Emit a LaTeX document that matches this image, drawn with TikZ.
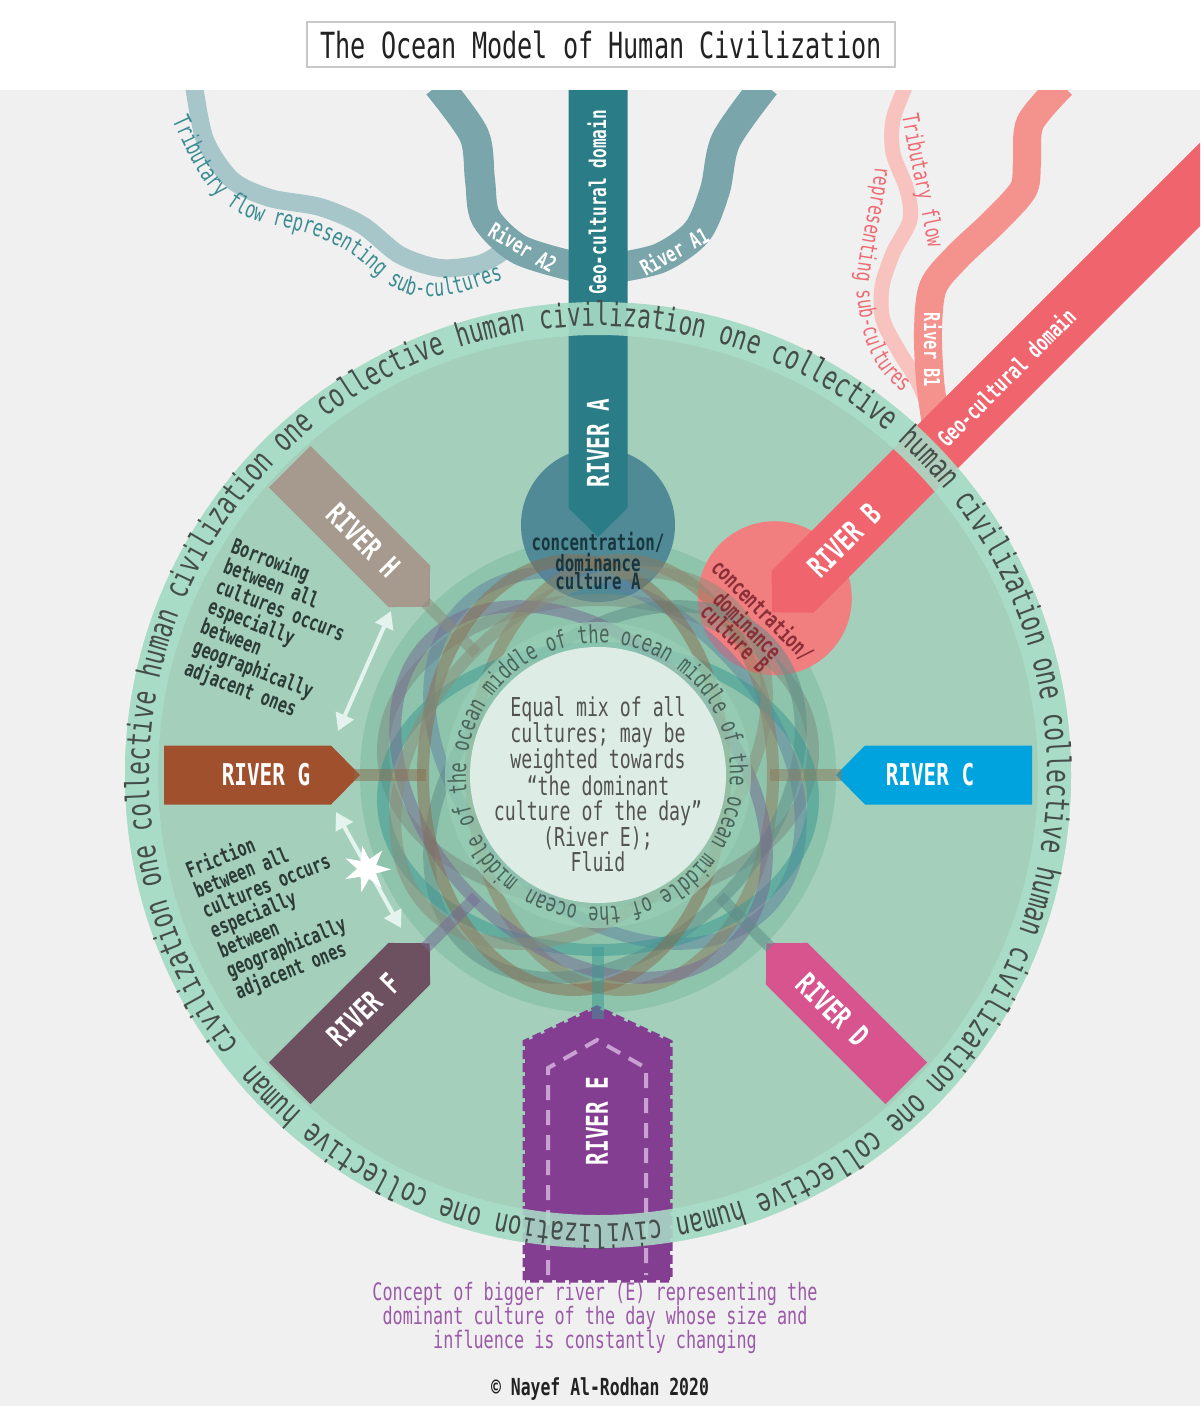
\documentclass[tikz,border=0pt]{standalone}
\usepackage{fontspec}
\setmainfont{DejaVu Sans Mono}[FakeStretch=0.7]
\usetikzlibrary{arrows.meta,decorations.text,shapes.geometric}
\definecolor{bggray}{HTML}{F0F0F0}
\definecolor{boxgray}{HTML}{C8C8C8}
\definecolor{titletxt}{HTML}{222222}
\definecolor{ringgreen}{HTML}{A9DCC6}
\definecolor{discgreen}{HTML}{A3CFBB}
\definecolor{deepgreen}{HTML}{8EC4AC}
\definecolor{midband}{HTML}{98CFB6}
\definecolor{coregreen}{HTML}{DDEDE6}
\definecolor{ringtxt}{HTML}{454D4A}
\definecolor{oceantxt}{HTML}{4A645C}
\definecolor{centretxt}{HTML}{525252}
\definecolor{riverA}{HTML}{2A7C86}
\definecolor{circA}{HTML}{4F8A96}
\definecolor{riverAA}{HTML}{7AA5AB}
\definecolor{tribA}{HTML}{A6C6C9}
\definecolor{tribAtxt}{HTML}{3B8B92}
\definecolor{riverB}{HTML}{F0646E}
\definecolor{circB}{HTML}{F27F80}
\definecolor{riverBB}{HTML}{F4938D}
\definecolor{tribB}{HTML}{F8C3BE}
\definecolor{tribBtxt}{HTML}{EE6A72}
\definecolor{riverC}{HTML}{00A3DE}
\definecolor{riverD}{HTML}{D8548F}
\definecolor{riverE}{HTML}{843E91}
\definecolor{dashE}{HTML}{C9A2D3}
\definecolor{riverF}{HTML}{6E5161}
\definecolor{riverG}{HTML}{A0502D}
\definecolor{riverH}{HTML}{A69A8F}
\definecolor{concAtxt}{HTML}{18363F}
\definecolor{concBtxt}{HTML}{8A2F37}
\definecolor{notetxt}{HTML}{2C3B36}
\definecolor{arrowwhite}{HTML}{E4F3ED}
\definecolor{concepttxt}{HTML}{9A5AA7}
\definecolor{loopA}{HTML}{7C8C80}
\definecolor{loopB}{HTML}{5F7FA0}
\definecolor{loopC}{HTML}{8D7A5C}
\definecolor{loopD}{HTML}{5E8C88}
\definecolor{loopE}{HTML}{3A9894}
\definecolor{loopF}{HTML}{766893}
\definecolor{loopG}{HTML}{8A6C4E}
\definecolor{loopH}{HTML}{8A8C78}
\tikzset{
  rivlab/.style  ={text=white,font=\bfseries\fontsize{30}{30}\selectfont,inner sep=0pt},
  geolab/.style  ={text=white,font=\bfseries\fontsize{23}{23}\selectfont,inner sep=0pt},
  sublab/.style  ={text=white,font=\bfseries\fontsize{22}{22}\selectfont,inner sep=0pt},
  conc/.style    ={font=\bfseries\fontsize{22.5}{18}\selectfont,align=center,inner sep=0pt},
  note/.style    ={text=notetxt,font=\bfseries\fontsize{21.5}{21.5}\selectfont,align=left,inner sep=0pt},
  domdisc/.style ={circle,minimum size=154pt,inner sep=0pt},
  flowloop/.style={line width=12pt,opacity=0.5},
  twoway/.style  ={draw=arrowwhite,line width=4pt,{Triangle[length=17pt,width=19pt]}-{Triangle[length=17pt,width=19pt]}},
}
\begin{document}
\begin{tikzpicture}[x=1pt,y=1pt]
  \useasboundingbox (0,0) rectangle (1200,-1406);
  \fill[white] (0,0) rectangle (1200,-90);
  \fill[bggray] (0,-90) rectangle (1200,-1406);
  \coordinate (ctr) at (598,-775);
  \node[draw=boxgray,line width=2pt,fill=white,minimum width=588pt,minimum height=45pt,inner sep=0pt,text=titletxt,font=\fontsize{36}{36}\selectfont] (title) at (601,-44.5) {The Ocean Model of Human Civilization};

  \fill[ringgreen] (ctr) circle[radius=473];
  \fill[discgreen] (ctr) circle[radius=440];
  \fill[deepgreen] (ctr) circle[radius=238];
  \node[domdisc,fill=circA] (domA) at ([shift={(90:250)}]ctr) {};
  \node[domdisc,fill=circB] (domB) at ([shift={(45:250)}]ctr) {};

  \begin{scope}
    \clip (0,-90) rectangle (1200,-1406);
    \draw[tribA,line width=18pt] plot[smooth] coordinates {(194,-85) (205,-140) (232,-180) (270,-198) (320,-207) (362,-225) (400,-255) (440,-268) (480,-264) (505,-250)};
    \draw[riverAA,line width=30pt] plot[smooth] coordinates {(438,-85) (474,-135) (480,-180) (486,-218) (520,-250) (580,-268)};
    \draw[riverAA,line width=30pt] plot[smooth] coordinates {(765,-85) (726,-140) (715,-190) (697,-232) (660,-258) (615,-268)};
    \draw[tribB,line width=15pt] plot[smooth] coordinates {(906,-85) (893,-120) (893,-153) (907,-190) (910,-220) (893,-253) (882,-287) (883,-320) (900,-353) (917,-380) (928,-405)};
    \draw[riverBB,line width=28pt] plot[smooth] coordinates {(1062,-85) (1030,-123) (1027,-163) (1023,-190) (993,-223) (957,-257) (933,-287) (928,-330) (930,-380) (936,-425)};
    \fill[riverB,shift={(603.7,-780.7)},rotate=45] (238,0) -- (267,29.5) -- (950,29.5) -- (950,-29.5) -- (267,-29.5) -- cycle;
  \end{scope}

  \foreach \ang/\col/\rout/\nm/\rot in {90/riverA/685/A/90,0/riverC/434/C/0,-45/riverD/436/D/-45,-135/riverF/436/F/45,180/riverG/434/G/0,135/riverH/436/H/-45}{
    \fill[\col,shift={(ctr)},rotate=\ang] (238,0) -- (267,29.5) -- (\rout,29.5) -- (\rout,-29.5) -- (267,-29.5) -- cycle;
    \node[rivlab,rotate=\rot] (lab\nm) at ([shift={(\ang:332)}]ctr) {RIVER \nm};
  }
  \node[rivlab,rotate=45] (labB) at (844,-540) {RIVER B};

  \fill[riverE] (525,-1280) -- (525,-1042) -- (597,-1008) -- (670,-1042) -- (670,-1280) -- cycle;
  \draw[riverE,line width=5pt,dash pattern=on 9pt off 4pt] (525,-1280) -- (525,-1042) -- (597,-1008) -- (670,-1042) -- (670,-1280) -- cycle;
  \draw[dashE,line width=4pt,dash pattern=on 15pt off 10pt] (548,-1275) -- (548,-1068) -- (597,-1040) -- (646,-1068) -- (646,-1275);
  \node[rivlab,rotate=90] (labE) at (597,-1121) {RIVER E};

  \fill[ringgreen,opacity=0.88,even odd rule] (ctr) circle[radius=473] (ctr) circle[radius=440];

  \foreach \ang/\col in {90/loopA,45/loopB,0/loopC,-45/loopD,-90/loopE,-135/loopF,180/loopG,135/loopH}{
    \draw[flowloop,draw=\col,shift={(ctr)},rotate=\ang] (24,0) ellipse[x radius=151,y radius=215];
  }
  \foreach \ang/\col in {0/loopC,-45/loopD,-90/loopE,-135/loopF,180/loopG,135/loopH}{
    \draw[flowloop,draw=\col,shift={(ctr)},rotate=\ang] (172,0) -- (244,0);
  }

  \fill[midband,opacity=0.7] (ctr) circle[radius=153];
  \fill[coregreen] (ctr) circle[radius=128];

  \path[decorate,decoration={text along path,text color=ringtxt,text={|\fontsize{32.7}{32.7}\selectfont|civilization one collective human civilization one collective human civilization one collective human civilization one collective human civilization one collective human civilization one collective human }}] ([shift={(217:449)}]ctr) arc[start angle=217,end angle=-143,radius=449];
  \path[decorate,decoration={text along path,text color=oceantxt,text={|\fontsize{24.5}{24.5}\selectfont|middle of the ocean middle of the ocean middle of the ocean middle of the ocean }}] ([shift={(233:132)}]ctr) arc[start angle=233,end angle=-127,radius=132];

  \node[text=centretxt,font=\fontsize{26}{25}\selectfont,align=center,inner sep=0pt] (mix) at (598,-784) {Equal mix of all\\cultures; may be\\weighted towards\\“the dominant\\culture of the day”\\(River E);\\Fluid};

  \node[conc,text=concAtxt] (concA) at ([shift={(90:214)}]ctr) {concentration/\\dominance\\culture A};
  \node[conc,text=concBtxt,rotate=-45] (concB) at ([shift={(45:214)}]ctr) {concentration/\\dominance\\culture B};

  \node[geolab,rotate=90] (geoA) at (597,-202) {Geo-cultural domain};
  \node[geolab,rotate=45] (geoB) at (1006,-377) {Geo-cultural domain};
  \node[sublab,rotate=-31] (labA2) at (523,-247) {River A2};
  \node[sublab,rotate=29] (labA1) at (674,-251) {River A1};
  \node[sublab,rotate=-90] (labB1) at (933,-350) {River B1};

  \path[decorate,decoration={text along path,text color=tribAtxt,text={|\fontsize{24}{24}\selectfont|Tributary flow representing sub-cultures}}] (172,-120) to[out=-65,in=165] (262,-222) to[out=-15,in=150] (345,-250) to[out=-30,in=175] (420,-296) to[out=-5,in=195] (512,-277);
  \path[decorate,decoration={text along path,text color=tribBtxt,text={|\fontsize{23}{23}\selectfont|Tributary flow}}] (902,-115) to[out=-80,in=100] (931,-262);
  \path[decorate,decoration={text along path,text color=tribBtxt,text={|\fontsize{23}{23}\selectfont|representing sub-cultures}}] (875,-166) to[out=-95,in=85] (856,-285) to[out=-85,in=150] (912,-398);

  \node[note,anchor=north west,rotate=-21] (borrow) at (236,-536) {Borrowing\\between all\\cultures occurs\\especially\\between\\geographically\\adjacent ones};
  \node[note,anchor=north west,rotate=22] (friction) at (183,-862) {Friction\\between all\\cultures occurs\\especially\\between\\geographically\\adjacent ones};
  \coordinate (bor1) at (338,-731); \coordinate (bor2) at (391,-611);
  \coordinate (fri1) at (336,-812); \coordinate (fri2) at (401,-928);
  \draw[twoway] (bor1) -- (bor2);
  \draw[twoway] (fri1) -- (fri2);
  \node[star,star points=7,star point ratio=2.4,minimum size=48pt,fill=white,inner sep=0pt,rotate=12] (spark) at (367,-869) {};

  \node[text=concepttxt,font=\fontsize{24}{23}\selectfont,align=center,inner sep=0pt] (concept) at (595,-1318) {Concept of bigger river (E) representing the\\dominant culture of the day whose size and\\influence is constantly changing};
  \node[text=titletxt,font=\bfseries\fontsize{23.5}{23.5}\selectfont,inner sep=0pt] (credit) at (600,-1389) {© Nayef Al-Rodhan 2020};
\end{tikzpicture}
\end{document}
